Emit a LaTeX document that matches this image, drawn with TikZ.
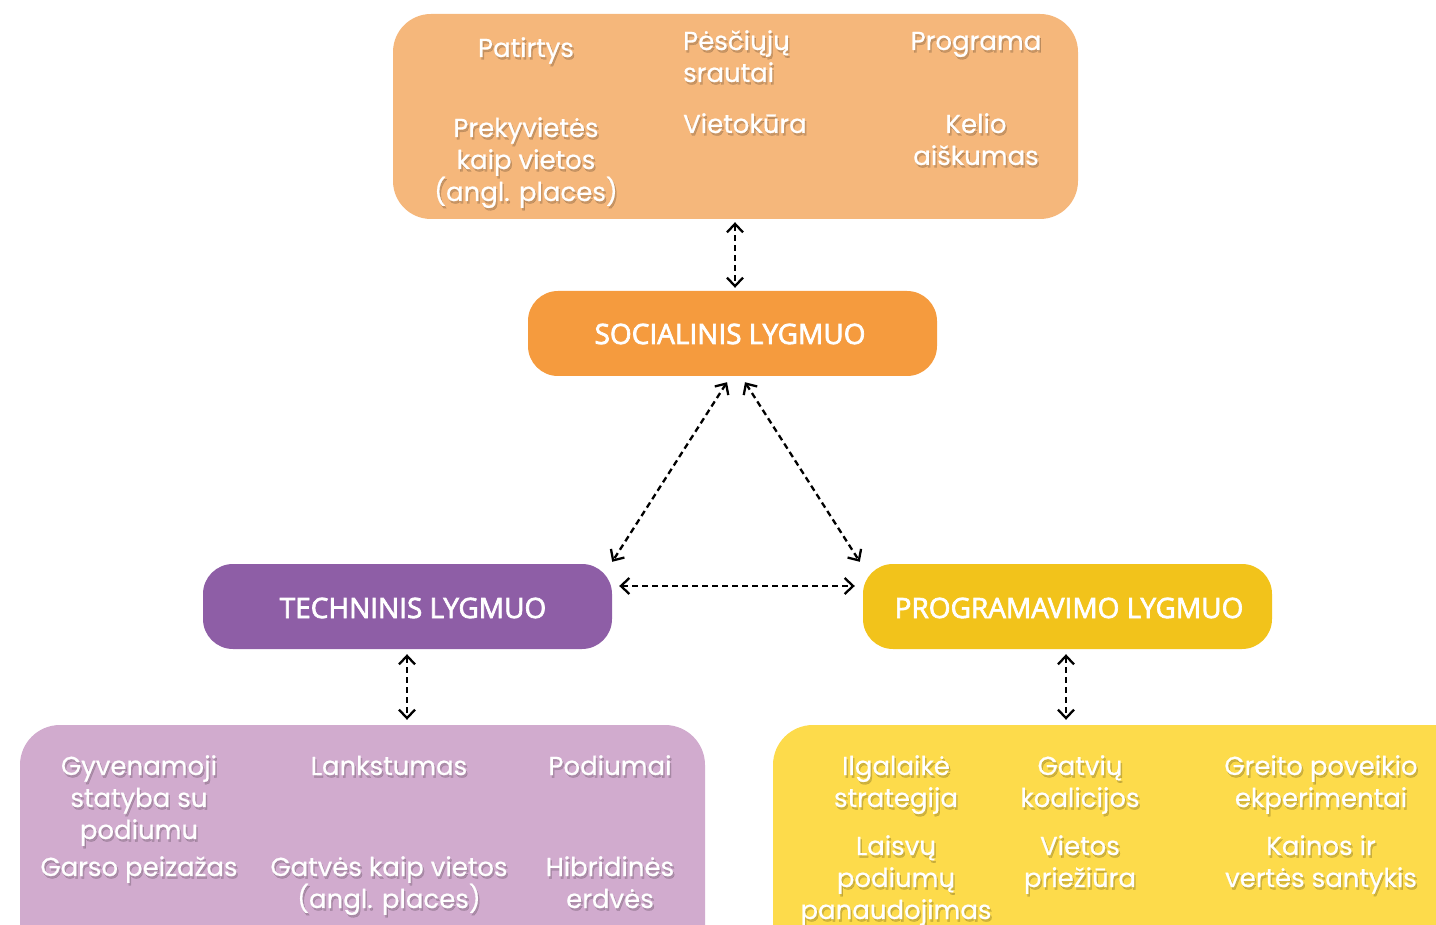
\documentclass[tikz,border=0pt]{standalone}
\usepackage{fontspec}
\setmainfont{Poppins}[FakeBold=0.6]
\newfontfamily\labfont{Open Sans}[BoldFont={Open Sans}, BoldFeatures={FakeBold=2.5}]
\usetikzlibrary{arrows.meta}
\definecolor{topc}{HTML}{F5B77B}
\definecolor{socc}{HTML}{F59B3E}
\definecolor{tecc}{HTML}{8E5EA6}
\definecolor{proc}{HTML}{F2C31B}
\definecolor{blc}{HTML}{D1ABCE}
\definecolor{brc}{HTML}{FDDB4B}
\tikzset{
  box/.style={rectangle, rounded corners=#1, inner sep=0pt},
  level/.style={font=\labfont\bfseries\fontsize{28}{32}\selectfont, text=white},
  item/.style={font=\fontsize{26}{32}\selectfont, text=white, align=center, anchor=base, inner sep=0pt},
  itemshadow/.style={item, text=black, text opacity=0.18},
  link/.style={dash pattern=on 6pt off 4pt, line width=2.3pt, {Straight Barb[length=8.5pt,width=16pt,line width=2.3pt]}-{Straight Barb[length=8.5pt,width=16pt,line width=2.3pt]}}
}
\newcommand{\itemtext}[4][]{%
  \node[itemshadow, #1] (#2s) at ([xshift=1.5pt,yshift=-2.5pt]#3) {#4};
  \node[item, #1] (#2) at (#3) {#4};}
\begin{document}
\begin{tikzpicture}[x=1pt,y=-1pt]
\useasboundingbox (0,0) rectangle (1436,925);
\clip (0,0) rectangle (1436,925);
% boxes
\node[box=38pt, fill=topc, minimum width=685pt, minimum height=205pt] (top) at (735.5,116.5) {};
\node[box=30pt, fill=socc, minimum width=409pt, minimum height=85pt] (soc) at (732.5,333.5) {};
\node[box=30pt, fill=tecc, minimum width=409pt, minimum height=85pt] (tec) at (407.5,606.5) {};
\node[box=30pt, fill=proc, minimum width=409pt, minimum height=85pt] (pro) at (1067.5,606.5) {};
\node[box=40pt, fill=blc, minimum width=685pt, minimum height=240pt] (bl) at (362.5,845) {};
\node[box=40pt, fill=brc, minimum width=703pt, minimum height=240pt] (br) at (1124.5,845) {};
% level labels
\node[level, anchor=base] (socl) at (730,344) {SOCIALINIS LYGMUO};
\node[level, anchor=base] (tecl) at (413,618) {TECHNINIS LYGMUO};
\node[level, anchor=base] (prol) at (1069,618) {PROGRAMAVIMO LYGMUO};
% top items
\itemtext{a1}{526,57}{Patirtys}
\itemtext[anchor=base west, align=left]{a2}{683,82}{Pėsčiųjų\\srautai}
\itemtext{a3}{976,50}{Programa}
\itemtext{a4}{526,201}{Prekyvietės\\kaip vietos\\(angl. places)}
\itemtext[anchor=base west, align=left]{a5}{683,133}{Vietokūra}
\itemtext{a6}{976,165}{Kelio\\aiškumas}
% bottom-left items
\itemtext{b1}{139,839}{Gyvenamoji\\statyba su\\podiumu}
\itemtext{b2}{389,775}{Lankstumas}
\itemtext{b3}{610,775}{Podiumai}
\itemtext{b4}{139,876}{Garso peizažas}
\itemtext{b5}{389,908}{Gatvės kaip vietos\\(angl. places)}
\itemtext{b6}{610,908}{Hibridinės\\erdvės}
% bottom-right items
\itemtext{c1}{896,807}{Ilgalaikė\\strategija}
\itemtext{c2}{1080,807}{Gatvių\\koalicijos}
\itemtext{c3}{1321,807}{Greito poveikio\\ekperimentai}
\itemtext{c4}{896,919}{Laisvų\\podiumų\\panaudojimas}
\itemtext{c5}{1080,887}{Vietos\\priežiūra}
\itemtext{c6}{1321,887}{Kainos ir\\vertės santykis}
% connectors
\draw[link] ([xshift=-0.5pt,yshift=-3pt]top.south) -- ([xshift=2.5pt,yshift=3pt]soc.north);
\draw[link] ([xshift=-5.5pt,yshift=-6pt]soc.south) -- ([yshift=2pt]tec.north east);
\draw[link] ([xshift=12.5pt,yshift=-6pt]soc.south) -- ([xshift=-3pt,yshift=2pt]pro.north west);
\draw[link] ([xshift=7pt,yshift=20.5pt]tec.east) -- ([xshift=-8pt,yshift=20.5pt]pro.west);
\draw[link] ([xshift=-0.5pt,yshift=-5pt]tec.south) -- ([xshift=-0.5pt,yshift=5pt]bl.north -| tec.south);
\draw[link] ([xshift=-1.5pt,yshift=-5pt]pro.south) -- ([xshift=-1.5pt,yshift=5pt]br.north -| pro.south);
\end{tikzpicture}
\end{document}
